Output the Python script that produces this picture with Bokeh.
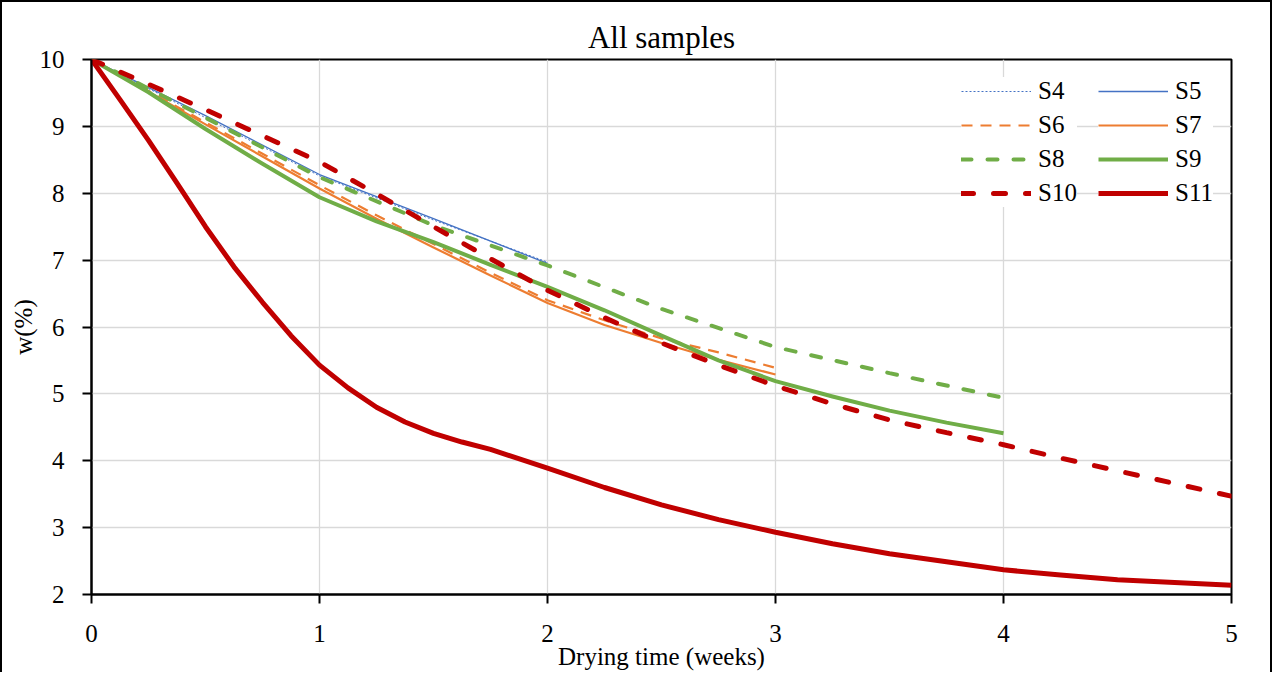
from bokeh.plotting import figure
from bokeh.models import Legend, LegendItem, FixedTicker, Range1d
from bokeh.embed import file_html
from bokeh.resources import INLINE

# ---- data ----
weeks_half = [0, 0.5, 1, 1.5, 2, 2.5, 3, 3.5, 4, 4.5, 5]
weeks_quarter = [0, 0.25, 0.5, 0.75, 1, 1.25, 1.5, 1.75, 2, 2.25, 2.5,
                 2.75, 3, 3.25, 3.5, 3.75, 4, 4.25, 4.5, 4.75, 5]
weeks_s11 = [0, 0.125, 0.25, 0.375, 0.5, 0.625, 0.75, 0.875, 1, 1.125, 1.25,
             1.375, 1.5, 1.625, 1.75, 2, 2.25, 2.5, 2.75, 3, 3.25, 3.5,
             3.75, 4, 4.25, 4.5, 4.75, 5]

s4 = [10, 9.13, 8.26, 7.60, 6.97]
s5 = [10, 9.16, 8.28, 7.62, 6.95]
s6 = [10, 9.53, 9.06, 8.59, 8.12, 7.67, 7.24, 6.81, 6.40, 6.10, 5.83,
      5.62, 5.39]
s7 = [10, 9.52, 9.03, 8.55, 8.07, 7.62, 7.19, 6.77, 6.36, 6.03, 5.76,
      5.51, 5.29]
s8 = [10, 9.13, 8.24, 7.52, 6.92, 6.27, 5.70, 5.31, 4.94]
s9 = [10, 9.51, 8.96, 8.44, 7.94, 7.58, 7.27, 6.93, 6.60, 6.25, 5.87,
      5.50, 5.19, 4.96, 4.75, 4.57, 4.41]
s10 = [10, 9.63, 9.25, 8.86, 8.47, 7.99, 7.50, 7.02, 6.55, 6.14, 5.76,
       5.43, 5.12, 4.85, 4.61, 4.42, 4.24, 4.04, 3.85, 3.66, 3.47]
s11 = [10, 9.40, 8.79, 8.15, 7.50, 6.90, 6.37, 5.87, 5.43, 5.09, 4.80,
       4.58, 4.41, 4.28, 4.17, 3.89, 3.60, 3.34, 3.12, 2.93, 2.76, 2.61,
       2.49, 2.37, 2.29, 2.22, 2.18, 2.14]

x_ticks = [0, 1, 2, 3, 4, 5]
y_ticks = [2, 3, 4, 5, 6, 7, 8, 9, 10]

FONT = "Liberation Serif"
BLUE, ORANGE, GREEN, RED = "#4472C4", "#ED7D31", "#70AD47", "#C00000"

p = figure(width=1272, height=672, output_backend="svg", toolbar_location=None,
           x_range=Range1d(0, 5), y_range=Range1d(2, 10),
           title="All samples")
p.min_border_left = 91
p.min_border_right = 41
p.min_border_top = 59
p.min_border_bottom = 77
p.border_fill_color = None
p.background_fill_color = "white"
p.outline_line_color = "black"
p.outline_line_width = 2
p.styles = {"box-shadow": "inset 2px 2px 0 0 black, inset -2px 0 0 0 black"}

p.title.text_font = FONT
p.title.text_font_size = "31px"
p.title.text_font_style = "normal"
p.title.align = "center"
p.title.text_color = "black"

for ax in (p.xaxis[0], p.yaxis[0]):
    ax.axis_line_color = "black"
    ax.axis_line_width = 2
    ax.major_tick_line_color = "black"
    ax.major_tick_line_width = 2
    ax.major_tick_in = 0
    ax.major_tick_out = 9
    ax.minor_tick_line_color = None
    ax.major_label_text_font = FONT
    ax.major_label_text_font_size = "25px"
    ax.major_label_text_color = "black"
    ax.axis_label_text_font = FONT
    ax.axis_label_text_font_size = "25px"
    ax.axis_label_text_font_style = "normal"
    ax.axis_label_text_color = "black"

p.xaxis[0].ticker = FixedTicker(ticks=x_ticks)
p.yaxis[0].ticker = FixedTicker(ticks=y_ticks)
p.xaxis[0].axis_label = "Drying time (weeks)"
p.yaxis[0].axis_label = "w(%)"
p.xaxis[0].major_label_standoff = 21
p.xaxis[0].axis_label_standoff = -2
p.yaxis[0].major_label_standoff = 18
p.yaxis[0].axis_label_standoff = 0

p.xgrid[0].ticker = FixedTicker(ticks=x_ticks)
p.ygrid[0].ticker = FixedTicker(ticks=y_ticks)
p.xgrid.grid_line_color = "#d9d9d9"
p.ygrid.grid_line_color = "#d9d9d9"
p.xgrid.grid_line_width = 1.3
p.ygrid.grid_line_width = 1.3

r4 = p.line(weeks_half[:len(s4)], s4, line_color=BLUE, line_width=1, line_dash="2 2")
r5 = p.line(weeks_half[:len(s5)], s5, line_color=BLUE, line_width=1.3)
r6 = p.line(weeks_quarter[:len(s6)], s6, line_color=ORANGE, line_width=2.2,
            line_dash="11 8")
r7 = p.line(weeks_quarter[:len(s7)], s7, line_color=ORANGE, line_width=2.2,
            line_join="round")
r8 = p.line(weeks_half[:len(s8)], s8, line_color=GREEN, line_width=4, line_dash="10 16",
            line_cap="round")
r9 = p.line(weeks_quarter[:len(s9)], s9, line_color=GREEN, line_width=4, line_join="round")
r10 = p.line(weeks_quarter[:len(s10)], s10, line_color=RED, line_width=5,
             line_dash="12 20", line_cap="round")
r11 = p.line(weeks_s11, s11, line_color=RED, line_width=5, line_join="round")


def make_legend(items, x):
    return Legend(items=items, location=(x, 387), orientation="vertical",
                  glyph_width=70, glyph_height=28, label_height=28,
                  label_standoff=7, spacing=6, padding=8, margin=0,
                  label_text_font=FONT, label_text_font_size="25px",
                  label_text_color="black",
                  border_line_color=None, background_fill_color="white",
                  background_fill_alpha=1.0)


leg_left = make_legend([LegendItem(label="S4", renderers=[r4]),
                        LegendItem(label="S6", renderers=[r6]),
                        LegendItem(label="S8", renderers=[r8]),
                        LegendItem(label="S10", renderers=[r10])], 870)
leg_right = make_legend([LegendItem(label="S5", renderers=[r5]),
                         LegendItem(label="S7", renderers=[r7]),
                         LegendItem(label="S9", renderers=[r9]),
                         LegendItem(label="S11", renderers=[r11])], 1007)
p.add_layout(leg_left)
p.add_layout(leg_right)

open("out.html", "w").write(file_html(p, INLINE))
